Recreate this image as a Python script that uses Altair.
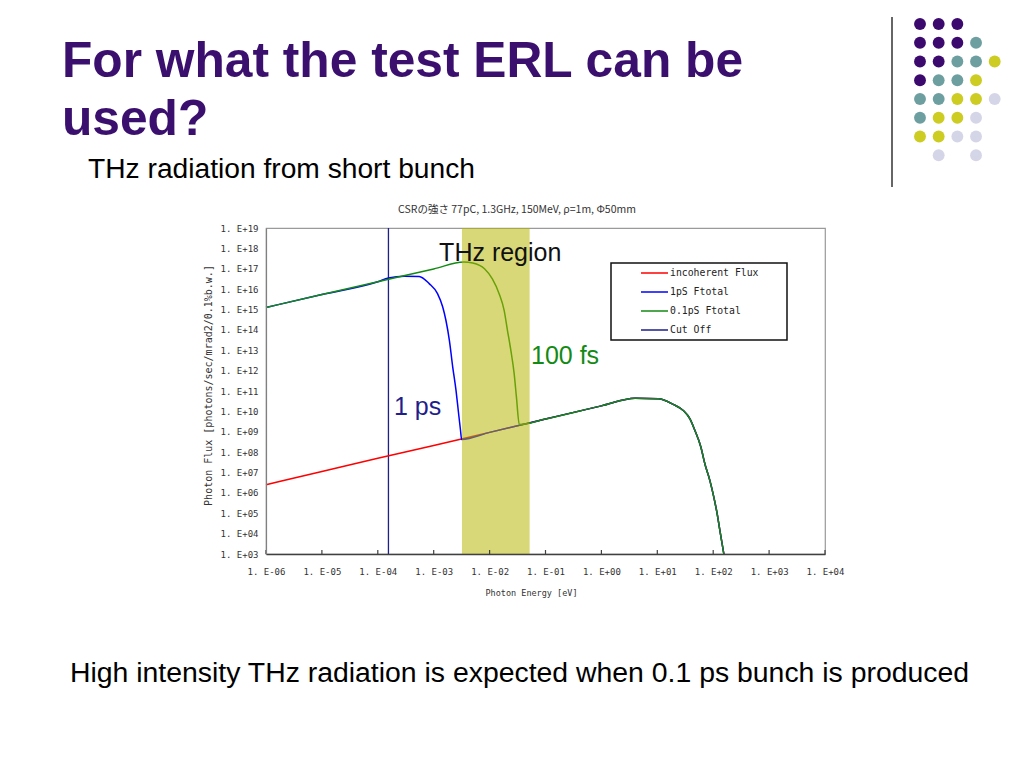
import altair as alt
import pandas as pd

# ---------------- data ----------------
x_ticks = [1e-6, 1e-5, 1e-4, 1e-3, 1e-2, 1e-1, 1e0, 1e1, 1e2, 1e3, 1e4]
y_ticks = [1e3, 1e4, 1e5, 1e6, 1e7, 1e8, 1e9, 1e10, 1e11, 1e12, 1e13, 1e14,
           1e15, 1e16, 1e17, 1e18, 1e19]

series_names = ["incoherent Flux", "1pS Ftotal", "0.1pS Ftotal", "Cut Off"]

incoherent_energy = [1e-6, 1e-5, 1e-4, 1e-3, 1e-2, 1e-1, 1, 4, 10.4, 19.3, 29.1,
                     38.4, 47.1, 60.3, 71.1, 87.3, 102.8, 117.8, 131.8, 155]
incoherent_flux = [2.5e6, 1.12e7, 5.0e7, 2.1e8, 9.3e8, 4.2e9, 1.86e10, 4.4e10, 4.2e10,
                   2.2e10, 1.1e10, 4.3e9, 1.15e9, 1.74e8, 2.6e7, 4.0e6, 6.0e5, 9.3e4,
                   1.4e4, 1.0e3]

ps1_energy = [1e-6, 1e-5, 1e-4, 1.55e-4, 3.0e-4, 5.5e-4, 8.3e-4, 1.17e-3, 1.45e-3,
              1.66e-3, 1.91e-3, 2.19e-3, 2.51e-3, 2.75e-3, 3.02e-3, 3.16e-3, 1e-2,
              1e-1, 1, 4, 10.4, 19.3, 29.1, 38.4, 47.1, 60.3, 71.1, 87.3, 102.8,
              117.8, 131.8, 155]
ps1_flux = [1.26e15, 5.4e15, 2.3e16, 3.5e16, 4.3e16, 4.2e16, 1.86e16, 6.0e15, 1.32e15,
            2.8e14, 3.0e13, 1.5e12, 1.05e11, 1.1e10, 1.15e9, 4.2e8, 9.3e8,
            4.2e9, 1.86e10, 4.4e10, 4.2e10, 2.2e10, 1.1e10, 4.3e9, 1.15e9, 1.74e8,
            2.6e7, 4.0e6, 6.0e5, 9.3e4, 1.4e4, 1.0e3]

ps01_energy = [1e-6, 1e-5, 1e-4, 1e-3, 3.47e-3, 5.0e-3, 8.1e-3, 1.12e-2, 1.48e-2,
               1.82e-2, 2.09e-2, 2.40e-2, 2.75e-2, 3.02e-2, 3.4e-2, 1e-1, 1, 4,
               10.4, 19.3, 29.1, 38.4, 47.1, 60.3, 71.1, 87.3, 102.8, 117.8, 131.8, 155]
ps01_flux = [1.26e15, 5.4e15, 2.3e16, 9.8e16, 2.14e17, 1.9e17, 1.0e17, 3.2e16, 6.0e15,
             9.1e14, 9.3e13, 9.8e12, 7.1e11, 5.0e10, 2.24e9, 4.2e9, 1.86e10, 4.4e10,
             4.2e10, 2.2e10, 1.1e10, 4.3e9, 1.15e9, 1.74e8, 2.6e7, 4.0e6, 6.0e5,
             9.3e4, 1.4e4, 1.0e3]

cutoff_energy = [1.55e-4, 1.55e-4]
cutoff_flux = [1e3, 1e19]

thz_band = [3.2e-3, 5.2e-2]

annot_text = ["THz region", "100 fs", "1 ps"]
annot_energy = [0.0155, 0.055, 1.95e-4]
annot_flux = [2.3e17, 2.2e12, 6.9e9]

chart_title = "CSRの強さ 77pC, 1.3GHz, 150MeV, ρ=1m, Φ50mm"
y_title = "Photon Flux [photons/sec/mrad2/0.1%b.w.]"
x_title = "Photon Energy [eV]"

slide_title = "For what the test ERL can be\nused?"
slide_subtitle = "THz radiation from short bunch"
slide_footer = "High intensity THz radiation is expected when 0.1 ps bunch is produced"

dot_col = [0, 1, 2, 0, 1, 2, 3, 0, 1, 2, 3, 4, 0, 1, 2, 3, 0, 1, 2, 3, 4,
           0, 1, 2, 3, 0, 1, 2, 3, 1, 3]
dot_row = [0, 0, 0, 1, 1, 1, 1, 2, 2, 2, 2, 2, 3, 3, 3, 3, 4, 4, 4, 4, 4,
           5, 5, 5, 5, 6, 6, 6, 6, 7, 7]
dot_tone = ["P", "P", "P", "P", "P", "P", "T", "P", "P", "T", "T", "Y", "P", "T", "T", "Y",
            "T", "T", "Y", "Y", "L", "T", "Y", "Y", "L", "Y", "Y", "L", "L", "L", "L"]

# ---------------- styling ----------------
series_colors = ["#FF0000", "#0000FF", "#138A13", "#1E1E8C"]
tone_names = ["P", "T", "Y", "L"]
tone_colors = ["#3C0A6E", "#6E9FA0", "#CCCC22", "#D5D5E8"]

W, H = 559, 326
SANS = "Liberation Sans"
MONO = "DejaVu Sans Mono"

x_scale = alt.Scale(type="log", domain=[1e-6, 1e4], nice=False)
y_scale = alt.Scale(type="log", domain=[1e3, 1e19], nice=False)

exp_expr = "abs(round(log(datum.value)/LN10))"
label_expr = ("'1. E' + (datum.value < 1 ? '-' : '+') + (" + exp_expr +
              " < 10 ? '0' : '') + " + exp_expr)

x_axis = alt.Axis(values=x_ticks, labelExpr=label_expr, title=x_title, grid=False,
                  ticks=False, labelPadding=13, labelFont=MONO, labelFontSize=9,
                  labelColor="#333333", domainColor="#404040", domainWidth=1.5,
                  titleFont=MONO, titleFontSize=8.5, titleFontWeight="normal",
                  titleColor="#333333", titleX=265, titleY=34, titleBaseline="top",
                  zindex=1, labelFlush=False)
y_axis = alt.Axis(values=y_ticks, labelExpr=label_expr, title=y_title, grid=False,
                  ticks=False, labelPadding=8, labelFont=MONO, labelFontSize=9,
                  labelColor="#333333", domainColor="#808080", domainWidth=1.2,
                  titleFont=MONO, titleFontSize=10, titleFontWeight="normal",
                  titleColor="#333333", titleX=-58, titleY=157, titleBaseline="middle",
                  titleAlign="center", zindex=1, labelFlush=False)

X = alt.X("energy:Q", scale=x_scale, axis=x_axis)
Y = alt.Y("flux:Q", scale=y_scale, axis=y_axis)

legend = alt.Legend(orient="none", legendX=374, legendY=35.6, title=None,
                    symbolType="stroke", symbolSize=729, symbolStrokeWidth=1.5,
                    labelFont=MONO, labelFontSize=9.8, labelColor="#222222",
                    labelOffset=1, rowPadding=0, clipHeight=18.7, padding=0, zindex=3)
color = alt.Color("series:N", scale=alt.Scale(domain=series_names, range=series_colors),
                  legend=legend)


def sdf(name, e, f):
    return pd.DataFrame({"energy": e, "flux": f, "series": name})


layers = []

# cut-off vertical line
layers.append(alt.Chart(sdf(series_names[3], cutoff_energy, cutoff_flux))
              .mark_line(strokeWidth=1.3).encode(x=X, y=Y, color=color))

for name, e, f in [(series_names[0], incoherent_energy, incoherent_flux),
                   (series_names[1], ps1_energy, ps1_flux),
                   (series_names[2], ps01_energy, ps01_flux)]:
    layers.append(alt.Chart(sdf(name, e, f))
                  .mark_line(strokeWidth=1.5, interpolate="monotone")
                  .encode(x=X, y=Y, color=color))

# THz shaded band (on top, semi-transparent)
band_df = pd.DataFrame({"energy": [thz_band[0]], "hi": [thz_band[1]]})
layers.append(alt.Chart(band_df).mark_rect(color="#B5B500", opacity=0.53)
              .encode(x=X, x2="hi:Q", y=alt.value(0), y2=alt.value(H)))

# inside ticks on x axis
tick_df = pd.DataFrame({"energy": x_ticks})
layers.append(alt.Chart(tick_df).mark_rule(color="#404040", strokeWidth=1.2)
              .encode(x=X, y=alt.value(H), y2=alt.value(H - 4)))

# annotations
annot_colors = ["#111111", "#138A13", "#1E1E8C"]
for t, e, f, c in zip(annot_text, annot_energy, annot_flux, annot_colors):
    adf = pd.DataFrame({"energy": [e], "flux": [f], "label": [t]})
    layers.append(alt.Chart(adf).mark_text(font=SANS, fontSize=25, color=c,
                                           align="center" if t == "THz region" else "left",
                                           baseline="alphabetic")
                  .encode(x=X, y=Y, text="label:N"))

# legend box
layers.append(alt.Chart(pd.DataFrame({"k": [0]})).mark_rect(fill="white", stroke="#111111",
                                                            strokeWidth=1.5)
              .encode(x=alt.value(345), x2=alt.value(521), y=alt.value(35), y2=alt.value(112)))


def text_layer(txt, x, y, **kw):
    return (alt.Chart(pd.DataFrame({"t": [txt]})).mark_text(**kw)
            .encode(x=alt.value(x), y=alt.value(y), text="t:N"))


layers.append(text_layer(chart_title, 251, -18, font="Noto Sans CJK JP", fontSize=10.5,
                         color="#333333", align="center", baseline="middle"))
layers.append(text_layer(slide_title, -204, -151, font=SANS, fontSize=49.7,
                         fontWeight="bold", color="#3A0F6E", align="left",
                         baseline="alphabetic", lineBreak="\n", lineHeight=58))
layers.append(text_layer(slide_subtitle, -178, -50, font=SANS, fontSize=28.2,
                         color="#000000", align="left", baseline="alphabetic"))
layers.append(text_layer(slide_footer, -196, 454, font=SANS, fontSize=28.4,
                         color="#000000", align="left", baseline="alphabetic"))
layers.append(alt.Chart(pd.DataFrame({"k": [0]})).mark_rule(color="#333333", strokeWidth=1.5)
              .encode(x=alt.value(626), y=alt.value(-211), y2=alt.value(-41)))

main = alt.layer(*layers)

dots_df = pd.DataFrame({"col": dot_col, "row": dot_row, "tone": dot_tone})
dots = alt.Chart(dots_df).mark_circle(size=141, opacity=1).encode(
    x=alt.X("col:Q", scale=alt.Scale(domain=[0, 4], range=[654, 728.7]), axis=None),
    y=alt.Y("row:Q", scale=alt.Scale(domain=[0, 7], range=[-204, -72.7]), axis=None),
    color=alt.Color("tone:N", scale=alt.Scale(domain=tone_names, range=tone_colors),
                    legend=None),
)

chart = (alt.layer(main, dots)
         .resolve_scale(x="independent", y="independent", color="independent")
         .properties(width=W, height=H, background="white",
                     padding={"left": 258, "top": 220, "right": 191, "bottom": 206},
                     autosize=alt.AutoSizeParams(type="none"))
         .configure_view(stroke="#9a9a9a", strokeWidth=1.2))

chart.save("out.html", embed_options={"renderer": "svg", "actions": False})
